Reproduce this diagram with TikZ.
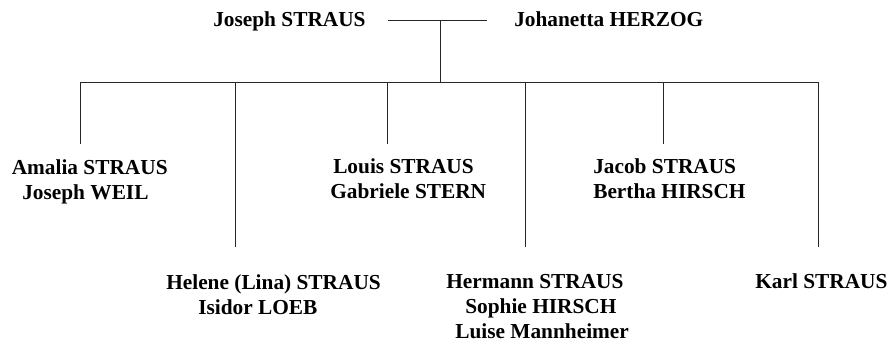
\documentclass[tikz,border=0pt]{standalone}
\usepackage{fontspec}
\setmainfont{Liberation Serif}
\usepackage{tikz}

\tikzset{
  person/.style={anchor=base west, inner sep=0pt, font=\bfseries\fontsize{16}{19}\selectfont},
  tree/.style={line width=0.75pt, color=black!85}
}

\begin{document}
\begin{tikzpicture}[x=0.75pt,y=0.75pt,yscale=-1,xscale=1]
\useasboundingbox (0,0) rectangle (889,343);

% Parents
\node[person] (joseph) at (213,26) {Joseph STRAUS};
\node[person] (johanetta) at (514,26) {Johanetta HERZOG};

% Children and spouses
\node[person] (amalia) at (11.5,174) {Amalia STRAUS};
\node[person] (weil) at (22,199.5) {Joseph WEIL};
\node[person] (louis) at (333,173) {Louis STRAUS};
\node[person] (gabriele) at (330,198) {Gabriele STERN};
\node[person] (jacob) at (593,173) {Jacob STRAUS};
\node[person] (bertha) at (593,198) {Bertha HIRSCH};
\node[person] (helene) at (166,289) {Helene (Lina) STRAUS};
\node[person] (isidor) at (198,314.5) {Isidor LOEB};
\node[person] (hermann) at (446,288) {Hermann STRAUS};
\node[person] (sophie) at (465,313) {Sophie HIRSCH};
\node[person] (luise) at (455,338) {Luise Mannheimer};
\node[person] (karl) at (755,288) {Karl STRAUS};

% Marriage line and descent
\coordinate (wedL) at (388,20);
\coordinate (wedR) at (487,20);
\coordinate (wed) at (440,20);
\coordinate (bar) at (440,82);
\coordinate (barL) at (80,82);
\coordinate (barR) at (818,82);
\draw[tree] (wedL) -- (wedR);
\draw[tree] (wed) -- (bar);
\draw[tree] (barL) -- (barR);

% Drop lines to the children
\foreach \n/\x/\y in {amalia/80/144, helene/235/247, louis/387/144,
                      hermann/525/247, jacob/663/144, karl/818/247}{
  \coordinate (\n-top) at (\x,\y);
  \draw[tree] (\n-top |- bar) -- (\n-top);
}

\end{tikzpicture}
\end{document}
